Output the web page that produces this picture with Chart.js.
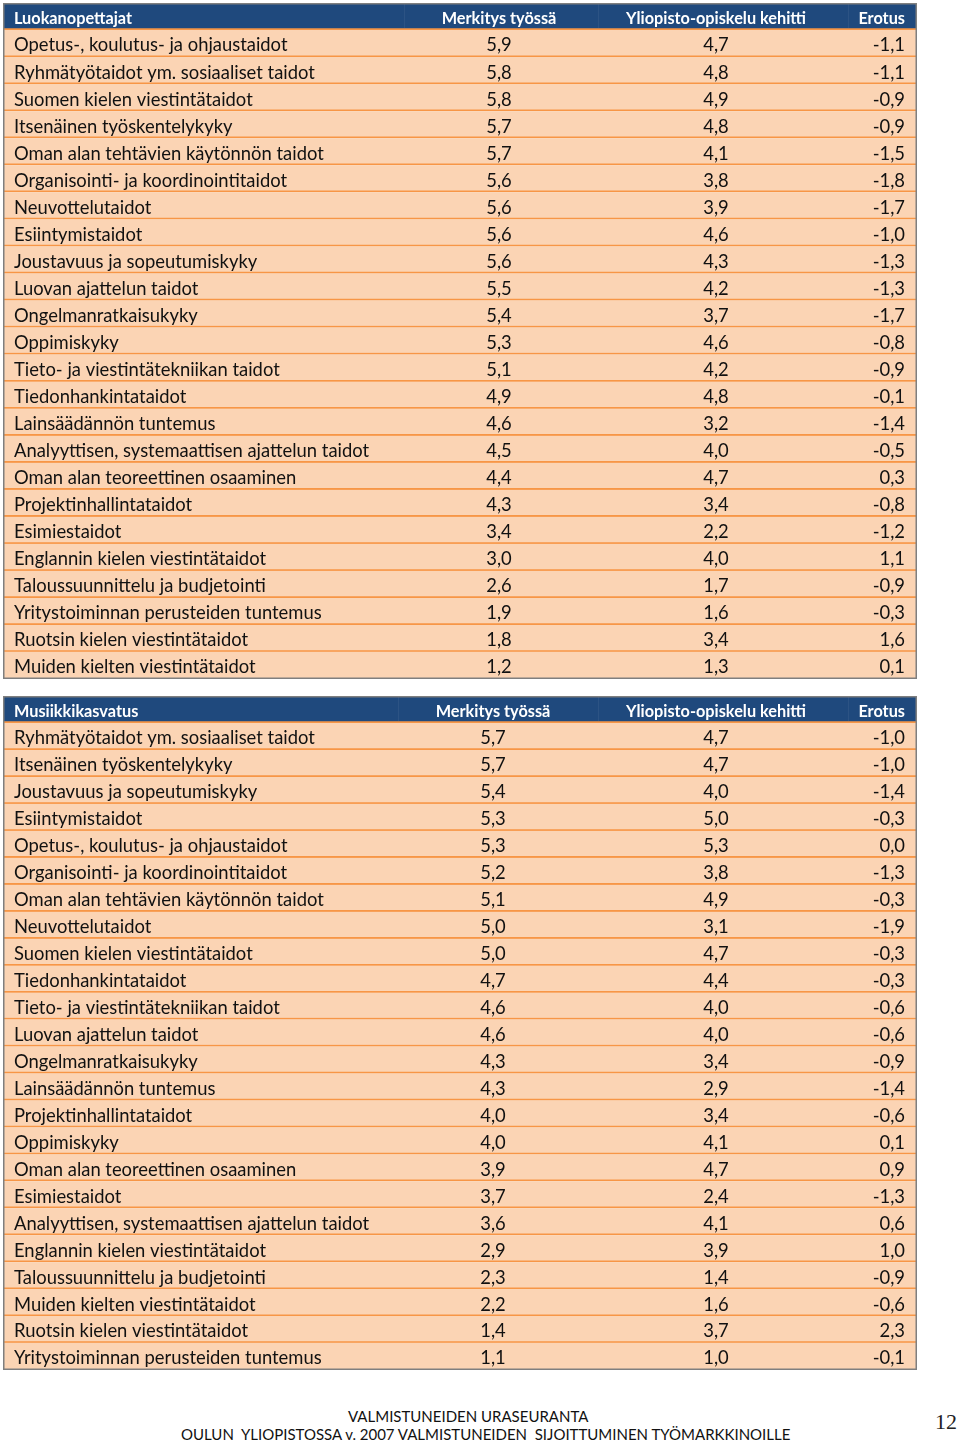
<!DOCTYPE html>
<html>
<head>
<meta charset="utf-8">
<script src="https://cdn.jsdelivr.net/npm/chart.js@4"></script>
<style>
  body { margin: 0; background: #fff; width: 960px; height: 1445px; position: relative; overflow: hidden; }
  .tbl { position: absolute; left: 3px; width: 914px; }
  #t1 { top: 3px; height: 676px; }
  #t2 { top: 696px; height: 674px; }
  .foot { position: absolute; font-family: Lato, sans-serif; font-size: 15px; color: #111; white-space: pre; }
  #page { position: absolute; left: 935px; top: 1409px; font-family: "Liberation Serif", serif; font-size: 22px; color: #222; }
</style>
</head>
<body>
<div class="tbl" id="t1"><canvas id="c1" width="914" height="676"></canvas></div>
<div class="tbl" id="t2"><canvas id="c2" width="914" height="674"></canvas></div>
<div class="foot" style="left:348px; top:1407px;">VALMISTUNEIDEN URASEURANTA</div>
<div class="foot" style="left:181px; top:1425px;">OULUN  YLIOPISTOSSA v. 2007 VALMISTUNEIDEN  SIJOITTUMINEN TYÖMARKKINOILLE</div>
<div id="page">12</div>
<script>
const columns = ["Merkitys työssä", "Yliopisto-opiskelu kehitti", "Erotus"];

const group1 = "Luokanopettajat";
const skills1 = [
  "Opetus-, koulutus- ja ohjaustaidot", "Ryhmätyötaidot ym. sosiaaliset taidot", "Suomen kielen viestintätaidot",
  "Itsenäinen työskentelykyky", "Oman alan tehtävien käytönnön taidot", "Organisointi- ja koordinointitaidot",
  "Neuvottelutaidot", "Esiintymistaidot", "Joustavuus ja sopeutumiskyky", "Luovan ajattelun taidot",
  "Ongelmanratkaisukyky", "Oppimiskyky", "Tieto- ja viestintätekniikan taidot", "Tiedonhankintataidot",
  "Lainsäädännön tuntemus", "Analyyttisen, systemaattisen ajattelun taidot", "Oman alan teoreettinen osaaminen",
  "Projektinhallintataidot", "Esimiestaidot", "Englannin kielen viestintätaidot", "Taloussuunnittelu ja budjetointi",
  "Yritystoiminnan perusteiden tuntemus", "Ruotsin kielen viestintätaidot", "Muiden kielten viestintätaidot"
];
const work1 = [5.9, 5.8, 5.8, 5.7, 5.7, 5.6, 5.6, 5.6, 5.6, 5.5, 5.4, 5.3, 5.1, 4.9, 4.6, 4.5, 4.4, 4.3, 3.4, 3.0, 2.6, 1.9, 1.8, 1.2];
const uni1 = [4.7, 4.8, 4.9, 4.8, 4.1, 3.8, 3.9, 4.6, 4.3, 4.2, 3.7, 4.6, 4.2, 4.8, 3.2, 4.0, 4.7, 3.4, 2.2, 4.0, 1.7, 1.6, 3.4, 1.3];
const diff1 = [-1.1, -1.1, -0.9, -0.9, -1.5, -1.8, -1.7, -1.0, -1.3, -1.3, -1.7, -0.8, -0.9, -0.1, -1.4, -0.5, 0.3, -0.8, -1.2, 1.1, -0.9, -0.3, 1.6, 0.1];

const group2 = "Musiikkikasvatus";
const skills2 = [
  "Ryhmätyötaidot ym. sosiaaliset taidot", "Itsenäinen työskentelykyky", "Joustavuus ja sopeutumiskyky",
  "Esiintymistaidot", "Opetus-, koulutus- ja ohjaustaidot", "Organisointi- ja koordinointitaidot",
  "Oman alan tehtävien käytönnön taidot", "Neuvottelutaidot", "Suomen kielen viestintätaidot", "Tiedonhankintataidot",
  "Tieto- ja viestintätekniikan taidot", "Luovan ajattelun taidot", "Ongelmanratkaisukyky", "Lainsäädännön tuntemus",
  "Projektinhallintataidot", "Oppimiskyky", "Oman alan teoreettinen osaaminen", "Esimiestaidot",
  "Analyyttisen, systemaattisen ajattelun taidot", "Englannin kielen viestintätaidot", "Taloussuunnittelu ja budjetointi",
  "Muiden kielten viestintätaidot", "Ruotsin kielen viestintätaidot", "Yritystoiminnan perusteiden tuntemus"
];
const work2 = [5.7, 5.7, 5.4, 5.3, 5.3, 5.2, 5.1, 5.0, 5.0, 4.7, 4.6, 4.6, 4.3, 4.3, 4.0, 4.0, 3.9, 3.7, 3.6, 2.9, 2.3, 2.2, 1.4, 1.1];
const uni2 = [4.7, 4.7, 4.0, 5.0, 5.3, 3.8, 4.9, 3.1, 4.7, 4.4, 4.0, 4.0, 3.4, 2.9, 3.4, 4.1, 4.7, 2.4, 4.1, 3.9, 1.4, 1.6, 3.7, 1.0];
const diff2 = [-1.0, -1.0, -1.4, -0.3, 0.0, -1.3, -0.3, -1.9, -0.3, -0.3, -0.6, -0.6, -0.9, -1.4, -0.6, 0.1, 0.9, -1.3, 0.6, 1.0, -0.9, -0.6, 2.3, -0.1];

const HEADER = "#1f497d";
const CELL = "#fbd4b4";
const LINE = "#f79646";
const BORDER = "#7f7f7f";
const TABLE_W = 914;

function fmt(v) {
  return v.toFixed(1).replace(".", ",");
}

// draws the cell texts at the positions given by the chart scales
const cellText = {
  id: "cellText",
  afterDatasetsDraw(chart, args, opts) {
    const ctx = chart.ctx;
    const x = chart.scales.x;
    const y = chart.scales.y;
    const rows = opts.rows;
    ctx.save();
    ctx.textBaseline = "middle";
    rows.forEach((row, i) => {
      const py = y.getPixelForValue(i) + 2;
      if (i === 0) {
        ctx.font = "bold 16.3px Lato";
        ctx.fillStyle = "#ffffff";
      } else {
        ctx.font = "18.4px Lato";
        ctx.fillStyle = "#111111";
      }
      ctx.textAlign = "left";
      ctx.fillText(row[0], x.getPixelForValue(11), py);
      ctx.textAlign = "center";
      ctx.fillText(row[1], x.getPixelForValue(opts.col2), py);
      ctx.fillText(row[2], x.getPixelForValue(713), py);
      ctx.textAlign = "right";
      ctx.fillText(row[3], x.getPixelForValue(902), py);
    });
    // faint column dividers in the header
    const top = y.getPixelForValue(0) - y.height / rows.length / 2;
    const bot = top + y.height / rows.length;
    ctx.strokeStyle = "rgba(255,255,255,0.06)";
    ctx.lineWidth = 1;
    [opts.col2 - 95, 595, 845].forEach(v => {
      const px = Math.round(x.getPixelForValue(v)) + 0.5;
      ctx.beginPath();
      ctx.moveTo(px, top);
      ctx.lineTo(px, bot - 2);
      ctx.stroke();
    });
    // outer frame
    const a = chart.chartArea;
    ctx.strokeStyle = BORDER;
    ctx.lineWidth = 1.5;
    ctx.strokeRect(a.left + 0.75, a.top + 0.75, a.width - 1.5, a.height - 1.5);
    ctx.restore();
  }
};

function buildTable(canvasId, group, skills, work, uni, diff, col2) {
  const labels = [group].concat(skills);
  const rows = [[group].concat(columns)].concat(
    skills.map((s, i) => [s, fmt(work[i]), fmt(uni[i]), fmt(diff[i])])
  );
  const last = labels.length - 1;
  new Chart(document.getElementById(canvasId), {
    type: "bar",
    data: {
      labels: labels,
      datasets: [{
        data: labels.map(() => [0, TABLE_W]),
        backgroundColor: labels.map((l, i) => i === 0 ? HEADER : CELL),
        borderColor: LINE,
        borderWidth: labels.map((l, i) => ({ top: 0, left: 0, right: 0, bottom: i === last ? 0 : 2 })),
        borderSkipped: false,
        barPercentage: 1,
        categoryPercentage: 1
      }]
    },
    options: {
      indexAxis: "y",
      responsive: false,
      animation: false,
      layout: { padding: 0 },
      scales: {
        x: { type: "linear", min: 0, max: TABLE_W, display: false },
        y: { type: "category", display: false, offset: true }
      },
      plugins: {
        legend: { display: false },
        tooltip: { enabled: false },
        cellText: { rows: rows, col2: col2 }
      }
    },
    plugins: [cellText]
  });
}

document.fonts.load("18.4px Lato").then(() => document.fonts.load("bold 16.3px Lato")).then(() => {
  buildTable("c1", group1, skills1, work1, uni1, diff1, 496);
  buildTable("c2", group2, skills2, work2, uni2, diff2, 490);
});
</script>
</body>
</html>
